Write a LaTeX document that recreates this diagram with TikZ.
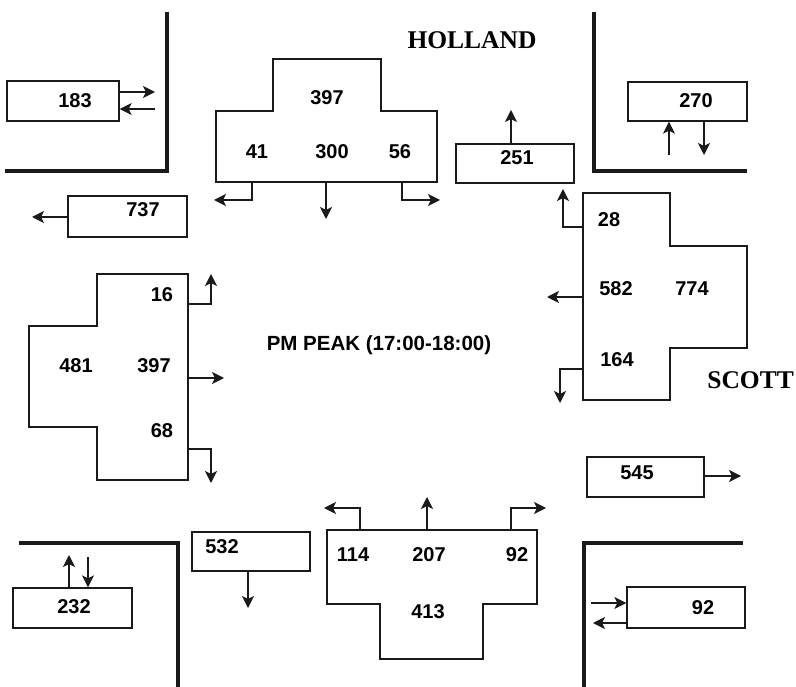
\documentclass[tikz,border=0pt]{standalone}
\usepackage{fontspec}
\setmainfont{Liberation Sans}
\newfontfamily\roadFont{Liberation Serif}
\usetikzlibrary{calc, arrows.meta}

\tikzset{
    volBox/.style={draw=borderColour, line width=1.3pt, inner sep=0pt, fill=white},
    volText/.style={font=\fontsize{20}{23}\selectfont\bfseries, inner sep=0pt},
    roadText/.style={font=\roadFont\fontsize{25.5}{29}\selectfont\bfseries, inner sep=0pt},
    kerb/.style={draw=borderColour, line width=4pt},
    approach/.style={draw=borderColour, line width=1.3pt},
    flow/.style={draw=borderColour, line width=1.3pt, -{Stealth[length=12pt,width=12pt,inset=3pt]}}
}

\begin{document}
\begin{tikzpicture}[x=1pt, y=-1pt]
    \definecolor{borderColour}{HTML}{1A1A1A}

    % Fix the page size
    \useasboundingbox (0,0) rectangle (796,687);

    % Draw kerbs at the four corners
    \draw[kerb] (167,12) -- (167,171) -- (5,171);
    \draw[kerb] (594,12) -- (594,171) -- (747,171);
    \draw[kerb] (19,543) -- (178,543) -- (178,687);
    \draw[kerb] (743,543) -- (584,543) -- (584,687);

    % Street names and period
    \node[roadText] (holland) at (472,40) {HOLLAND};
    \node[roadText, anchor=east] (scott) at (794,380) {SCOTT};
    \node[volText, font=\fontsize{20.5}{24}\selectfont\bfseries] (peak) at (379,345) {PM PEAK (17:00-18:00)};

    % Link volume boxes
    \node[volBox, minimum width=112, minimum height=40] (boxA) at (63,101) {};
    \node[volText] (txtA) at (75,101) {183};
    \node[volBox, minimum width=119, minimum height=41] (boxB) at (127.5,216.5) {};
    \node[volText] (txtB) at (143,210) {737};
    \node[volBox, minimum width=119, minimum height=39] (boxC) at (687.5,101.5) {};
    \node[volText] (txtC) at (696,101) {270};
    \node[volBox, minimum width=118, minimum height=39] (boxD) at (515,163.5) {};
    \node[volText] (txtD) at (517,158) {251};
    \node[volBox, minimum width=119, minimum height=40] (boxE) at (72.5,608) {};
    \node[volText] (txtE) at (74,607) {232};
    \node[volBox, minimum width=118, minimum height=39] (boxF) at (251,551.5) {};
    \node[volText] (txtF) at (222,547) {532};
    \node[volBox, minimum width=117, minimum height=40] (boxG) at (645.5,477) {};
    \node[volText] (txtG) at (637,473) {545};
    \node[volBox, minimum width=118, minimum height=41] (boxH) at (686,607.5) {};
    \node[volText] (txtH) at (703,608) {92};

    % Free ends of the link arrows
    \coordinate (endA1) at (155,92);
    \coordinate (endA2) at (155,109);
    \coordinate (endB) at (32,217);
    \coordinate (endC1) at (669,155);
    \coordinate (endC2) at (704,155);
    \coordinate (endD) at (511,110);
    \coordinate (endE1) at (69,555);
    \coordinate (endE2) at (88,557);
    \coordinate (endF) at (248,608);
    \coordinate (endG) at (741,476);
    \coordinate (endH1) at (591,603);
    \coordinate (endH2) at (593,623);

    % Draw link arrows
    \draw[flow] (boxA.east |- endA1) -- (endA1);
    \draw[flow] (endA2) -- (boxA.east |- endA2);
    \draw[flow] (boxB.west |- endB) -- (endB);
    \draw[flow] (endC1) -- (endC1 |- boxC.south);
    \draw[flow] (endC2 |- boxC.south) -- (endC2);
    \draw[flow] (endD |- boxD.north) -- (endD);
    \draw[flow] (endE1 |- boxE.north) -- (endE1);
    \draw[flow] (endE2) -- (endE2 |- boxE.north);
    \draw[flow] (endF |- boxF.south) -- (endF);
    \draw[flow] (boxG.east |- endG) -- (endG);
    \draw[flow] (endH1) -- (boxH.west |- endH1);
    \draw[flow] (boxH.west |- endH2) -- (endH2);

    % North approach
    \draw[approach] (273,59) -- (381,59) -- (381,111) -- (437,111) -- (437,182)
        -- (216,182) -- (216,111) -- (273,111) -- cycle;
    \node[volText] (nIn) at (327,98) {397};
    \node[volText] (nL) at (257,152) {41};
    \node[volText] (nT) at (332,152) {300};
    \node[volText] (nR) at (400,152) {56};
    \coordinate (nLs) at (252,182);
    \coordinate (nTs) at (326,182);
    \coordinate (nRs) at (402,182);
    \coordinate (nLe) at (214,200);
    \coordinate (nTe) at (326,219);
    \coordinate (nRe) at (440,200);
    \draw[flow] (nLs) |- (nLe);
    \draw[flow] (nTs) -- (nTe);
    \draw[flow] (nRs) |- (nRe);

    % East approach
    \draw[approach] (583,193) -- (670,193) -- (670,246) -- (747,246) -- (747,348)
        -- (670,348) -- (670,400) -- (583,400) -- cycle;
    \node[volText] (eR) at (609,220) {28};
    \node[volText] (eT) at (616,289) {582};
    \node[volText] (eIn) at (692,289) {774};
    \node[volText] (eL) at (617,360) {164};
    \coordinate (eRs) at (583,227);
    \coordinate (eTs) at (583,297);
    \coordinate (eLs) at (583,369);
    \coordinate (eRe) at (563,189);
    \coordinate (eTe) at (547,297);
    \coordinate (eLe) at (560,403);
    \draw[flow] (eRs) -| (eRe);
    \draw[flow] (eTs) -- (eTe);
    \draw[flow] (eLs) -| (eLe);

    % West approach
    \draw[approach] (97,274) -- (188,274) -- (188,480) -- (97,480) -- (97,427)
        -- (29,427) -- (29,326) -- (97,326) -- cycle;
    \node[volText] (wL) at (162,295) {16};
    \node[volText] (wIn) at (76,366) {481};
    \node[volText] (wT) at (154,366) {397};
    \node[volText] (wR) at (162,431) {68};
    \coordinate (wLs) at (188,304);
    \coordinate (wTs) at (188,378);
    \coordinate (wRs) at (188,449);
    \coordinate (wLe) at (211,274);
    \coordinate (wTe) at (224,378);
    \coordinate (wRe) at (211,483);
    \draw[flow] (wLs) -| (wLe);
    \draw[flow] (wTs) -- (wTe);
    \draw[flow] (wRs) -| (wRe);

    % South approach
    \draw[approach] (327,530) -- (537,530) -- (537,604) -- (483,604) -- (483,659)
        -- (380,659) -- (380,604) -- (327,604) -- cycle;
    \node[volText] (sL) at (353,555) {114};
    \node[volText] (sT) at (429,555) {207};
    \node[volText] (sR) at (517,555) {92};
    \node[volText] (sIn) at (428,612) {413};
    \coordinate (sLs) at (360,530);
    \coordinate (sTs) at (427,530);
    \coordinate (sRs) at (511,530);
    \coordinate (sLe) at (324,508);
    \coordinate (sTe) at (427,497);
    \coordinate (sRe) at (546,508);
    \draw[flow] (sLs) |- (sLe);
    \draw[flow] (sTs) -- (sTe);
    \draw[flow] (sRs) |- (sRe);

\end{tikzpicture}
\end{document}
